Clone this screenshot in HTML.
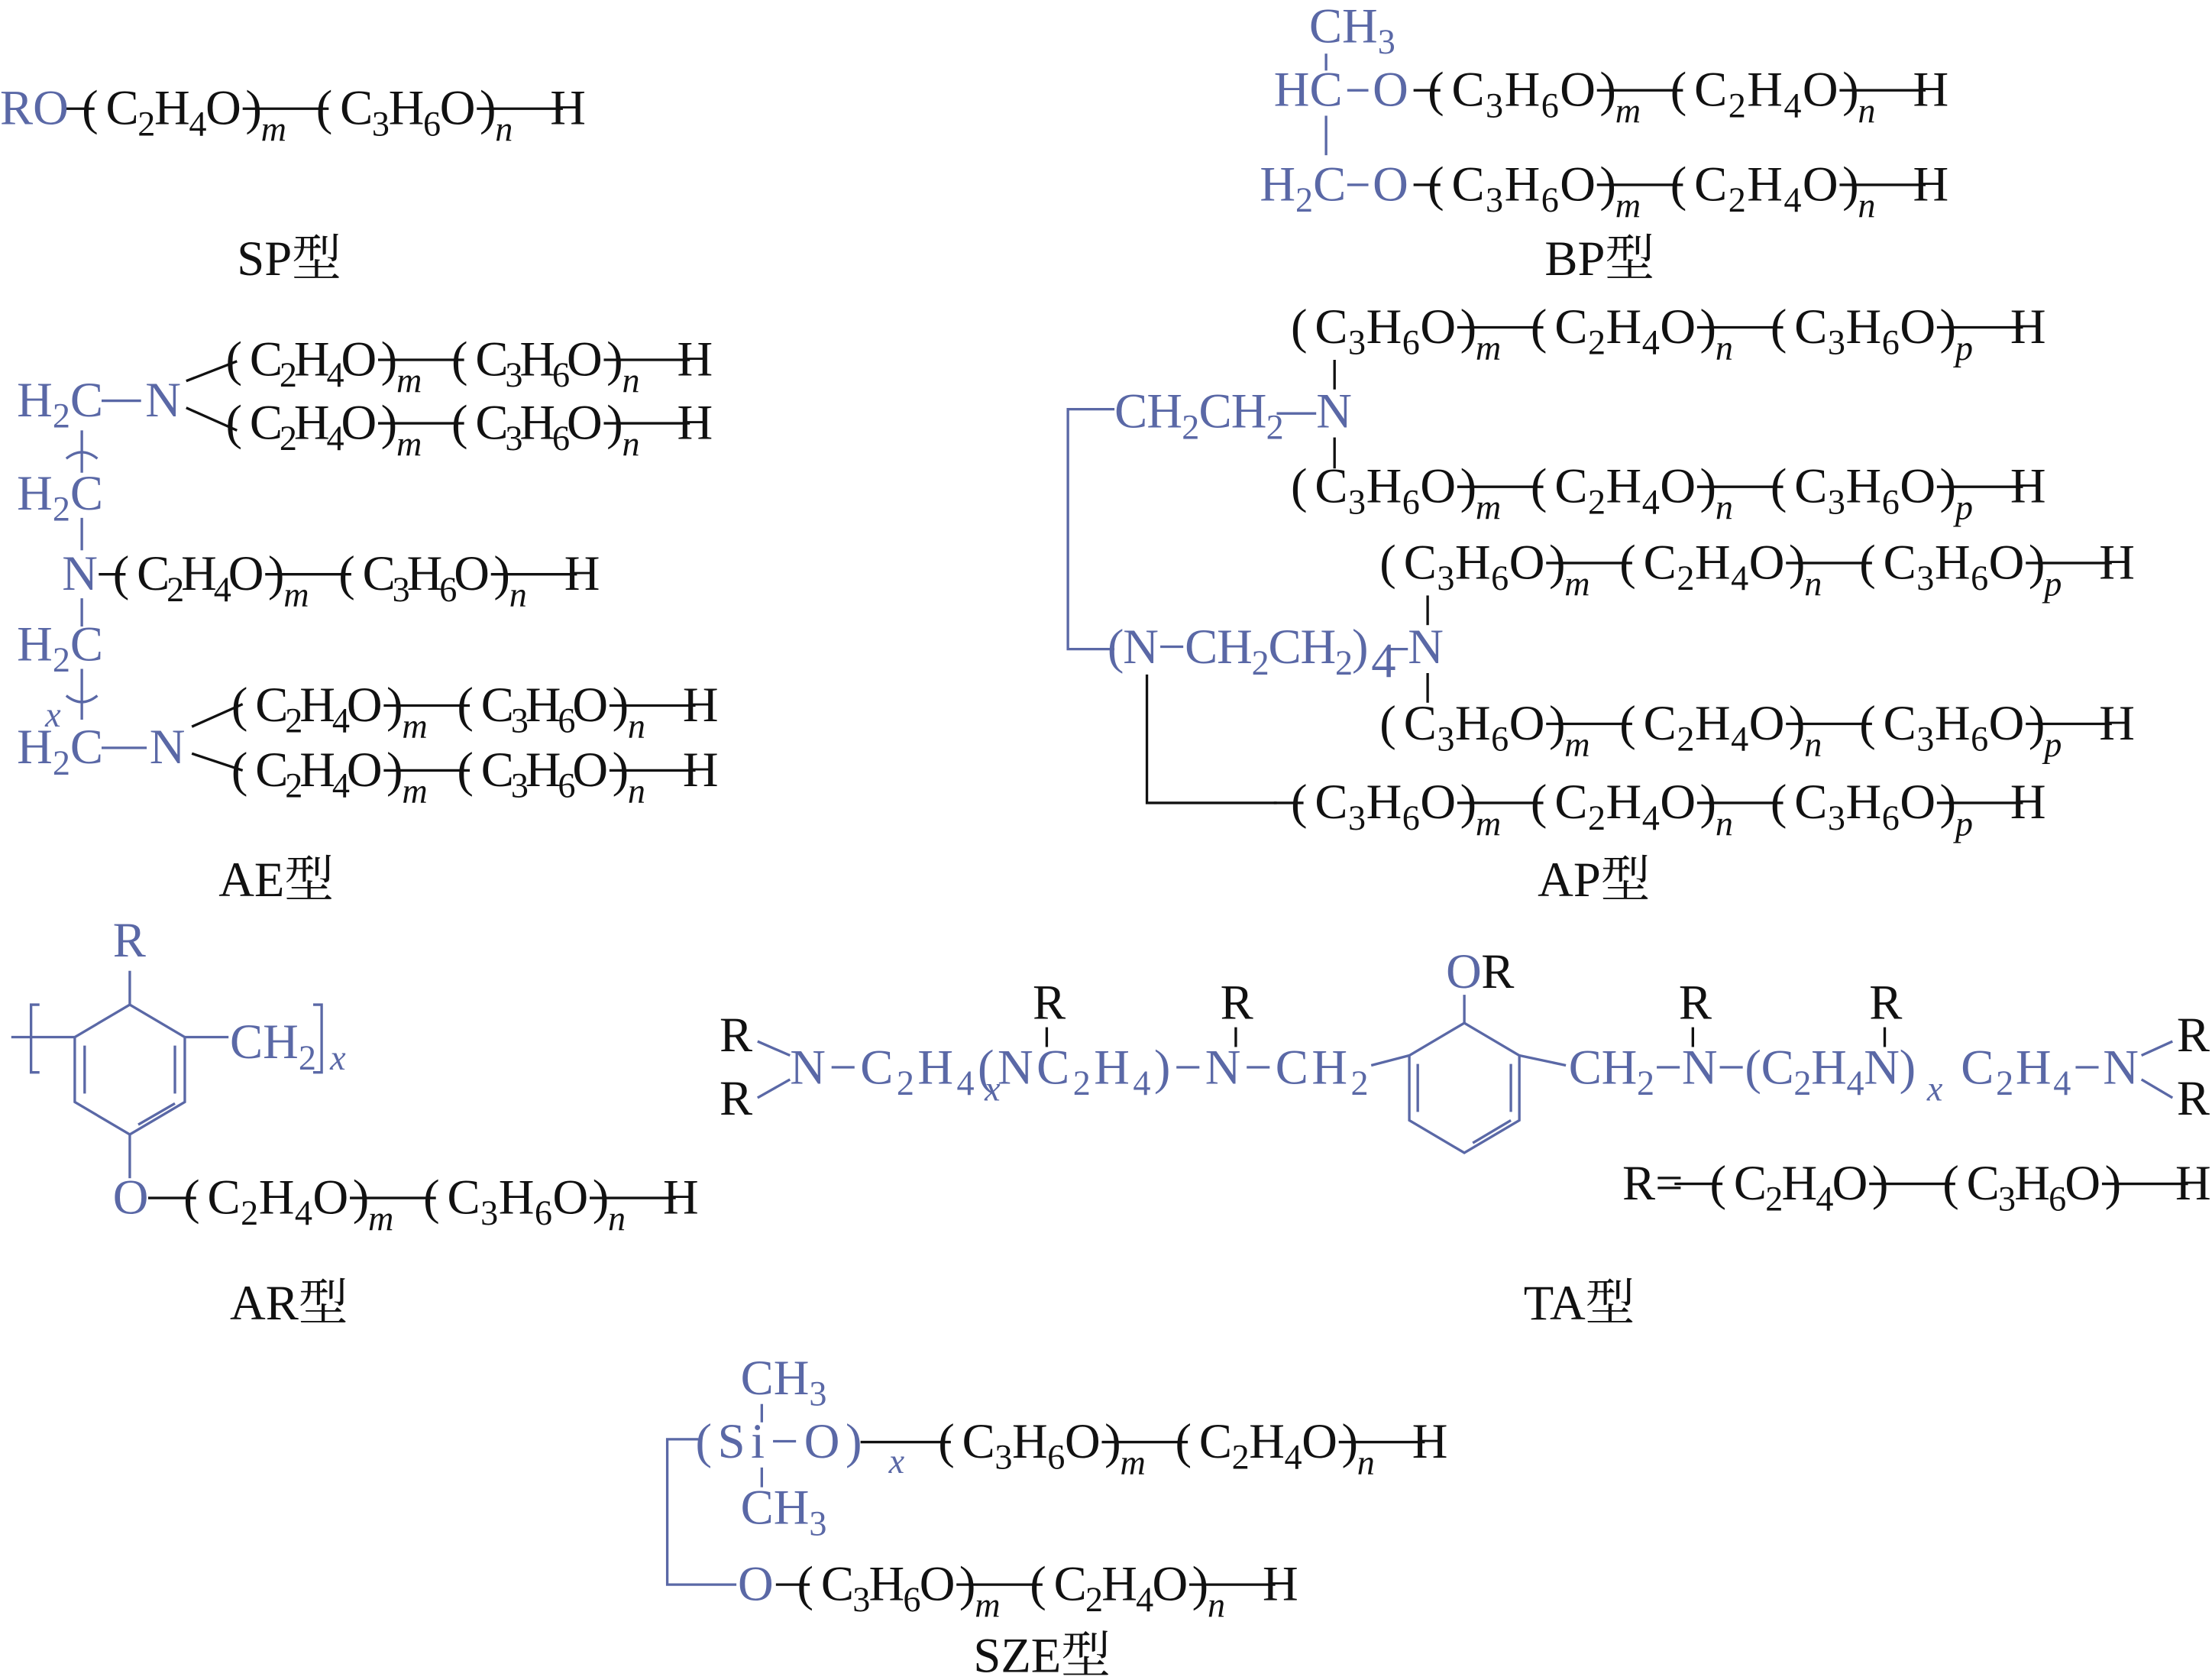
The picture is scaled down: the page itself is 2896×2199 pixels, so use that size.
<!DOCTYPE html>
<html><head><meta charset="utf-8"><style>
html,body{margin:0;padding:0;background:#fff;}
svg{display:block}
text{font-family:"Liberation Serif","Noto Serif CJK SC",serif;font-size:35px;fill:#111}
.b{fill:#5a68a6}
.l{stroke:#111;stroke-width:1.8;fill:none}
.lb{stroke:#5a68a6;stroke-width:1.8;fill:none}
.i{font-style:italic;font-size:25px}
</style></head><body>
<svg id="s" width="2896" height="2199" viewBox="0 0 1568 1190.6" xmlns="http://www.w3.org/2000/svg">
<g id="gen"></g>

<!-- SP -->
<text x="0" y="88" class="b">RO</text>
<text x="168" y="195">SP型</text>

<!-- BP -->
<text x="928" y="30" class="b">CH<tspan dy="8" font-size="25">3</tspan></text>
<line class="lb" x1="940" y1="38" x2="940" y2="50"/>
<text x="903" y="75" class="b">HC</text>
<line class="lb" x1="955" y1="64" x2="970" y2="64"/>
<text x="973" y="75" class="b">O</text>
<line class="lb" x1="940" y1="82" x2="940" y2="110"/>
<text x="893" y="142" class="b">H<tspan dy="8" font-size="25">2</tspan><tspan dy="-8">C</tspan></text>
<line class="lb" x1="955" y1="131" x2="970" y2="131"/>
<text x="973" y="142" class="b">O</text>
<text x="1095" y="195">BP型</text>

<!-- AE -->
<line class="l" x1="132" y1="270" x2="168" y2="256"/><line class="l" x1="132" y1="289" x2="168" y2="305"/>
<line class="l" x1="136" y1="515" x2="172" y2="499"/><line class="l" x1="136" y1="534" x2="172" y2="546"/>
<text x="12" y="295" class="b">H<tspan dy="8" font-size="25">2</tspan><tspan dy="-8">C</tspan></text>
<line class="lb" x1="72" y1="284" x2="100" y2="284"/>
<text x="103" y="295" class="b">N</text>
<line class="lb" x1="58" y1="305" x2="58" y2="335"/><path class="lb" d="M47 325 Q58 316 69 325"/>
<text x="12" y="361" class="b">H<tspan dy="8" font-size="25">2</tspan><tspan dy="-8">C</tspan></text>
<line class="lb" x1="58" y1="367" x2="58" y2="390"/>
<text x="44" y="418" class="b">N</text>
<line class="lb" x1="58" y1="424" x2="58" y2="444"/>
<text x="12" y="468" class="b">H<tspan dy="8" font-size="25">2</tspan><tspan dy="-8">C</tspan></text>
<line class="lb" x1="58" y1="474" x2="58" y2="510"/><path class="lb" d="M47 493 Q58 502 69 493"/>
<text x="32" y="515" class="b i">x</text>
<text x="12" y="541" class="b">H<tspan dy="8" font-size="25">2</tspan><tspan dy="-8">C</tspan></text>
<line class="lb" x1="72" y1="530" x2="104" y2="530"/>
<text x="106" y="541" class="b">N</text>
<text x="155" y="635">AE型</text>

<!-- AP -->
<text x="790" y="303" class="b" textLength="120" lengthAdjust="spacing">CH<tspan dy="8" font-size="25">2</tspan><tspan dy="-8">CH</tspan><tspan dy="8" font-size="25">2</tspan></text>
<line class="lb" x1="905" y1="293" x2="933" y2="293"/>
<text x="933" y="303" class="b">N</text>
<line class="l" x1="946" y1="255" x2="946" y2="276"/><line class="l" x1="946" y1="310" x2="946" y2="332"/>
<polyline class="lb" points="790,290 757,290 757,460 790,460"/>
<text x="785" y="470" class="b" textLength="185" lengthAdjust="spacing">(N−CH<tspan dy="8" font-size="25">2</tspan><tspan dy="-8">CH</tspan><tspan dy="8" font-size="25">2</tspan><tspan dy="-8">)</tspan></text>
<text x="972" y="480" class="b" font-size="25">4</text>
<line class="lb" x1="984" y1="460" x2="998" y2="460"/>
<text x="998" y="470" class="b">N</text>
<line class="l" x1="1012" y1="422" x2="1012" y2="443"/><line class="l" x1="1012" y1="477" x2="1012" y2="498"/>
<polyline class="l" points="813,478 813,569 905,569"/>
<text x="1090" y="635">AP型</text>

<!-- AR -->
<text x="80" y="678" class="b">R</text>
<line class="lb" x1="92" y1="688" x2="92" y2="712"/>
<polygon class="lb" points="92,712 131,735 131,781 92,804 53,781 53,735"/>
<line class="lb" x1="60" y1="741" x2="60" y2="775"/><line class="lb" x1="124" y1="741" x2="124" y2="775"/><line class="lb" x1="98" y1="797" x2="124" y2="782"/>
<line class="lb" x1="131" y1="735" x2="162" y2="735"/>
<line class="lb" x1="53" y1="735" x2="8" y2="735"/>
<path class="lb" d="M28 712 L22 712 L22 760 L28 760"/>
<text x="163" y="750" class="b">CH<tspan dy="8" font-size="25">2</tspan></text>
<path class="lb" d="M222 712 L228 712 L228 760 L222 760"/>
<text x="234" y="758" class="b i">x</text>
<line class="lb" x1="92" y1="804" x2="92" y2="835"/>
<text x="80" y="860" class="b">O</text>
<text x="163" y="935">AR型</text>

<!-- TA -->
<text x="510" y="745">R</text><text x="510" y="790">R</text>
<line class="lb" x1="537" y1="738" x2="560" y2="748"/><line class="lb" x1="537" y1="778" x2="560" y2="765"/>
<text x="560" y="768" class="b" textLength="410" lengthAdjust="spacing">N−C<tspan dy="8" font-size="25">2</tspan><tspan dy="-8">H</tspan><tspan dy="8" font-size="25">4</tspan><tspan dy="-8">(NC</tspan><tspan dy="8" font-size="25">2</tspan><tspan dy="-8">H</tspan><tspan dy="8" font-size="25">4</tspan><tspan dy="-8">)−N−CH</tspan><tspan dy="8" font-size="25">2</tspan></text>
<text x="698" y="780" class="b i">x</text>
<text x="732" y="722">R</text><line class="l" x1="742" y1="728" x2="742" y2="742"/>
<text x="865" y="722">R</text><line class="l" x1="876" y1="728" x2="876" y2="742"/>
<polygon class="lb" points="1038,725 1077,748 1077,794 1038,817 999,794 999,748"/>
<line class="lb" x1="1005" y1="754" x2="1005" y2="788"/><line class="lb" x1="1071" y1="754" x2="1071" y2="788"/><line class="lb" x1="1044" y1="810" x2="1071" y2="794"/>
<line class="lb" x1="972" y1="755" x2="999" y2="748"/>
<line class="lb" x1="1038" y1="725" x2="1038" y2="705"/>
<text x="1025" y="700" class="b">O</text><text x="1050" y="700">R</text>
<line class="lb" x1="1077" y1="748" x2="1110" y2="755"/>
<text x="1112" y="768" class="b" textLength="246" lengthAdjust="spacing">CH<tspan dy="8" font-size="25">2</tspan><tspan dy="-8">−N−(C</tspan><tspan dy="8" font-size="25">2</tspan><tspan dy="-8">H</tspan><tspan dy="8" font-size="25">4</tspan><tspan dy="-8">N)</tspan></text>
<text x="1366" y="780" class="b i">x</text>
<text x="1390" y="768" class="b" textLength="126" lengthAdjust="spacing">C<tspan dy="8" font-size="25">2</tspan><tspan dy="-8">H</tspan><tspan dy="8" font-size="25">4</tspan><tspan dy="-8">−N</tspan></text>
<text x="1190" y="722">R</text><line class="l" x1="1200" y1="728" x2="1200" y2="742"/>
<text x="1325" y="722">R</text><line class="l" x1="1336" y1="728" x2="1336" y2="742"/>
<line class="lb" x1="1518" y1="748" x2="1540" y2="738"/><line class="lb" x1="1518" y1="765" x2="1540" y2="778"/>
<text x="1543" y="745">R</text><text x="1543" y="790">R</text>
<text x="1150" y="850">R=</text>
<text x="1080" y="935">TA型</text>

<!-- SZE -->
<text x="525" y="988" class="b">CH<tspan dy="8" font-size="25">3</tspan></text>
<line class="lb" x1="540" y1="995" x2="540" y2="1008"/>
<text x="493" y="1033" class="b" textLength="118" lengthAdjust="spacing">(Si−O)</text>
<text x="630" y="1044" class="b i">x</text>
<line class="lb" x1="540" y1="1040" x2="540" y2="1054"/>
<text x="525" y="1080" class="b">CH<tspan dy="8" font-size="25">3</tspan></text>
<polyline class="lb" points="495,1020 473,1020 473,1123 522,1123"/>
<text x="523" y="1134" class="b">O</text>
<text x="690" y="1185">SZE型</text>
</svg>
<script>
function F(s){let o='',sub=false;for(const ch of s){if(/\d/.test(ch)){o+=`<tspan dy="${sub?0:8}" font-size="25">${ch}</tspan>`;sub=true;}else{o+=`<tspan dy="${sub?-8:0}">${ch}</tspan>`;sub=false;}}return o;}
let out='';
function chain(x,y,units,adv,lead){
  const fw=adv-70;
  if(lead)out+=`<line class="l" x1="${x-lead}" y1="${y-11}" x2="${x+9}" y2="${y-11}"/>`;
  units.forEach((u,i)=>{
    const ux=x+i*adv, cx=ux+17+fw+3;
    out+=`<text x="${ux}" y="${y}">(</text>`;
    out+=`<text x="${ux+17}" y="${y}" textLength="${fw}" lengthAdjust="spacing">${F(u[0])}</text>`;
    out+=`<text x="${cx}" y="${y}">)</text>`;
    if(u[1])out+=`<text x="${cx+11}" y="${y+12}" class="i">${u[1]}</text>`;
    out+=`<line class="l" x1="${cx-2}" y1="${y-11}" x2="${ux+adv+9}" y2="${y-11}"/>`;
  });
  out+=`<text x="${x+units.length*adv}" y="${y}">H</text>`;
}
const EP=[['C2H4O','m'],['C3H6O','n']], PE=[['C3H6O','m'],['C2H4O','n']], PEP=[['C3H6O','m'],['C2H4O','n'],['C3H6O','p']];
chain(58,88,EP,166,12);
chain(1012,75,PE,172,10);chain(1012,142,PE,172,10);
chain(160,266,EP,160,0);chain(160,311,EP,160,0);chain(80,418,EP,160,10);chain(164,511,EP,160,0);chain(164,557,EP,160,0);
chain(915,243,PEP,170,0);chain(915,356,PEP,170,0);chain(978,410,PEP,170,0);chain(978,524,PEP,170,0);chain(915,580,PEP,170,12);
chain(130,860,EP,170,25);
chain(1212,850,[['C2H4O',''],['C3H6O','']],165,25);
chain(665,1033,PE,168,55);chain(565,1134,PE,165,15);
document.getElementById('gen').innerHTML=out;
</script>
</body></html>
